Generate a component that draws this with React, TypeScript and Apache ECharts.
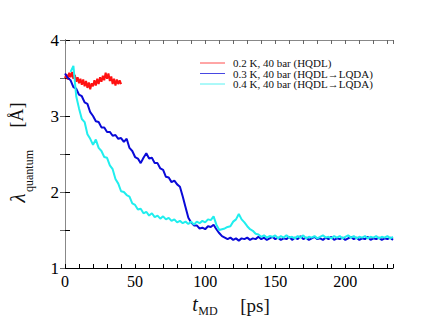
import React, { useEffect, useRef } from "react";
import * as echarts from "echarts";

const seriesNames = [
  "0.2 K, 40 bar (HQDL)",
  "0.3 K, 40 bar (HQDL\u2192LQDA)",
  "0.4 K, 40 bar (HQDL\u2192LQDA)",
];
const seriesColors = ["#ff1010", "#0a0ad8", "#20eeee"];

const xTickLabels = ["0", "50", "100", "150", "200"];
const yTickLabels = ["1", "2", "3", "4"];

// red: t = 0..40 ps, step 1
const redStart = 0;
const redStep = 1;
const redValues = [
  3.5, 3.55, 3.48, 3.57, 3.51, 3.58, 3.49, 3.54, 3.45, 3.51, 3.43, 3.49, 3.41, 3.48, 3.39, 3.46, 3.37, 3.44, 3.35,
  3.43, 3.39, 3.47, 3.4, 3.49, 3.42, 3.51, 3.45, 3.53, 3.47, 3.57, 3.49, 3.56, 3.46, 3.52, 3.42, 3.49, 3.4, 3.48,
  3.42, 3.47, 3.42,
];

// blue: t = 0..234 ps, step 2
const blueStart = 0;
const blueStep = 2;
const blueValues = [
  3.56, 3.5, 3.47, 3.38, 3.36, 3.28, 3.26, 3.18, 3.16, 3.05, 3.0, 2.93, 2.92, 2.85, 2.85, 2.79, 2.79, 2.74, 2.75,
  2.7, 2.71, 2.66, 2.7, 2.58, 2.54, 2.46, 2.44, 2.38, 2.45, 2.51, 2.44, 2.45, 2.38, 2.38, 2.31, 2.29, 2.2, 2.19,
  2.13, 2.15, 2.1, 2.07, 1.94, 1.8, 1.66, 1.6, 1.56, 1.56, 1.52, 1.53, 1.51, 1.55, 1.54, 1.57, 1.51, 1.46, 1.42,
  1.4, 1.38, 1.4, 1.37, 1.39, 1.36, 1.39, 1.38, 1.4, 1.37, 1.39, 1.38, 1.41, 1.38, 1.4, 1.37, 1.39, 1.41, 1.38,
  1.4, 1.37, 1.39, 1.38, 1.41, 1.37, 1.4, 1.38, 1.42, 1.38, 1.4, 1.37, 1.39, 1.41, 1.38, 1.39, 1.37, 1.4, 1.38,
  1.41, 1.37, 1.39, 1.38, 1.4, 1.37, 1.39, 1.41, 1.38, 1.4, 1.37, 1.39, 1.38, 1.41, 1.37, 1.39, 1.38, 1.4, 1.37,
  1.39, 1.38, 1.4, 1.37,
];

// cyan: t = 4..234 ps, step 2
const cyanStart = 4;
const cyanStep = 2;
const cyanValues = [
  3.58, 3.66, 3.26, 3.1, 2.96, 2.92, 2.76, 2.7, 2.62, 2.69, 2.58, 2.54, 2.46, 2.45, 2.35, 2.3, 2.17, 2.11, 2.01,
  2.0, 1.96, 1.94, 1.85, 1.83, 1.77, 1.78, 1.72, 1.74, 1.69, 1.72, 1.67, 1.69, 1.65, 1.68, 1.64, 1.66, 1.62, 1.64,
  1.6, 1.62, 1.59, 1.61, 1.58, 1.61, 1.57, 1.61, 1.59, 1.62, 1.6, 1.64, 1.63, 1.68, 1.57, 1.5, 1.51, 1.52, 1.54,
  1.55, 1.61, 1.64, 1.71, 1.64, 1.6, 1.55, 1.51, 1.49, 1.45, 1.44, 1.41, 1.43, 1.4, 1.42, 1.41, 1.43, 1.39, 1.42,
  1.4, 1.43, 1.4, 1.41, 1.39, 1.42, 1.4, 1.43, 1.39, 1.41, 1.4, 1.42, 1.39, 1.41, 1.43, 1.4, 1.41, 1.39, 1.42,
  1.4, 1.42, 1.39, 1.41, 1.43, 1.4, 1.42, 1.39, 1.41, 1.4, 1.42, 1.39, 1.41, 1.4, 1.42, 1.39, 1.41, 1.4, 1.42,
  1.39, 1.41,
];

const toPairs = (start: number, step: number, vals: number[]) =>
  vals.map((v, i) => [start + i * step, v]);

const FONT = "Times New Roman, Liberation Serif, DejaVu Serif, serif";

export default function App() {
  const ref = useRef<HTMLDivElement>(null);
  useEffect(() => {
    if (!ref.current) return;
    const chart = echarts.init(ref.current, null, { renderer: "svg" });
    const grid = { left: 65, right: 43, top: 40, bottom: 61 };
    const legendItems: any[] = [];
    seriesNames.forEach((name, i) => {
      const y = 63 + i * 10.5;
      legendItems.push({
        type: "line",
        shape: { x1: 200, y1: y, x2: 225, y2: y },
        style: { stroke: seriesColors[i], lineWidth: 1, opacity: 0.75 },
      });
      legendItems.push({
        type: "text",
        x: 233,
        y: y,
        style: {
          text: name,
          fill: "#111",
          fontFamily: FONT,
          fontSize: 11,
          align: "left",
          verticalAlign: "middle",
        },
      });
    });
    const txt = (
      text: string,
      x: number,
      y: number,
      size: number,
      rotate: boolean,
      italic = false
    ) => ({
      type: "text",
      x,
      y,
      rotation: rotate ? Math.PI / 2 : 0,
      style: {
        text,
        fill: "#111",
        fontFamily: FONT,
        fontSize: size,
        fontStyle: italic ? "italic" : "normal",
        align: "center",
        verticalAlign: "middle",
      },
    });
    chart.setOption({
      animation: false,
      backgroundColor: "#fff",
      textStyle: { fontFamily: FONT },
      grid,
      xAxis: [
        {
          type: "value",
          min: 0,
          max: 234,
          interval: 10,
          axisLine: { lineStyle: { color: "#000", width: 1 } },
          axisTick: { inside: true, length: 4, lineStyle: { color: "#000" } },
          axisLabel: {
            color: "#000",
            fontFamily: FONT,
            fontSize: 16,
            margin: 5,
            formatter: (v: number) => (v % 50 === 0 ? xTickLabels[v / 50] ?? "" : ""),
          },
          splitLine: { show: false },
        },
        {
          type: "value",
          position: "top",
          min: 0,
          max: 234,
          interval: 10,
          axisLine: { lineStyle: { color: "#888", width: 1 } },
          axisTick: { inside: true, length: 4, lineStyle: { color: "#666" } },
          axisLabel: { show: false },
          splitLine: { show: false },
        },
      ],
      yAxis: [
        {
          type: "value",
          min: 1,
          max: 4,
          interval: 0.5,
          axisLine: { show: true, lineStyle: { color: "#000", width: 1 } },
          axisTick: { show: true, inside: true, length: 5, lineStyle: { color: "#000" } },
          axisLabel: {
            color: "#000",
            fontFamily: FONT,
            fontSize: 17,
            margin: 6,
            formatter: (v: number) =>
              Number.isInteger(v) ? yTickLabels[v - 1] ?? "" : "",
          },
          splitLine: { show: false },
        },
        {
          type: "value",
          position: "right",
          min: 1,
          max: 4,
          interval: 0.5,
          axisLine: { show: true, lineStyle: { color: "#888", width: 1 } },
          axisTick: { show: true, inside: true, length: 5, lineStyle: { color: "#666" } },
          axisLabel: { show: false },
          splitLine: { show: false },
        },
      ],
      series: [
        { start: redStart, step: redStep, vals: redValues },
        { start: blueStart, step: blueStep, vals: blueValues },
        { start: cyanStart, step: cyanStep, vals: cyanValues },
      ].map((s, i) => ({
        type: "line",
        name: seriesNames[i],
        xAxisIndex: 0,
        yAxisIndex: 0,
        data: toPairs(s.start, s.step, s.vals),
        showSymbol: false,
        symbol: "none",
        lineStyle: { color: seriesColors[i], width: 2 },
        itemStyle: { color: seriesColors[i] },
      })),
      graphic: [
        ...legendItems,
        txt("\u03bb", 18, 198, 21, true, true),
        txt("quantum", 29, 171, 12, true),
        txt("[\u00c5]", 17, 115, 18, true),
        txt("t", 195, 304, 20, false, true),
        txt("MD", 208, 311, 12, false),
        txt("[ps]", 255, 305, 19, false),
      ],
    });
    return () => chart.dispose();
  }, []);
  return (
    <div
      ref={ref}
      style={{ position: "fixed", left: 0, top: 0, width: 436, height: 329 }}
    />
  );
}
